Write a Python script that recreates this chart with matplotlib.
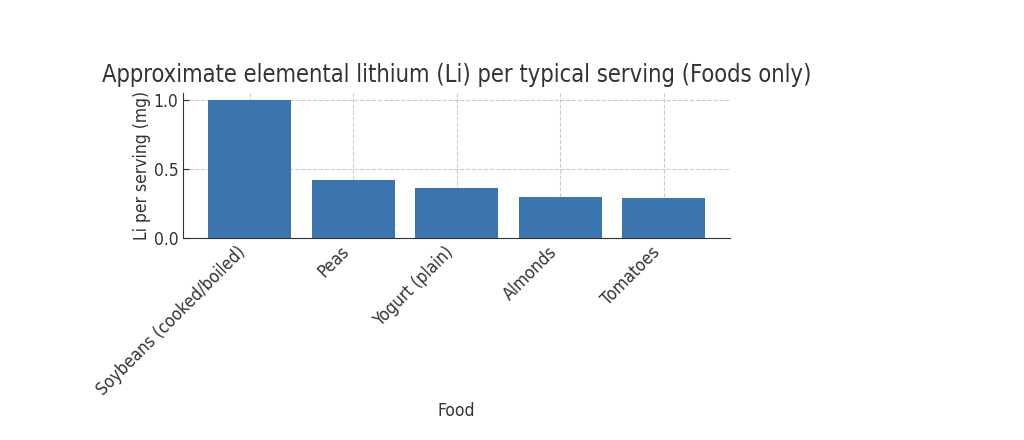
import matplotlib
matplotlib.use("Agg")
import matplotlib.pyplot as plt

foods = ["Soybeans (cooked/boiled)", "Peas", "Yogurt (plain)", "Almonds", "Tomatoes"]
li_mg = [1.0, 0.417, 0.364, 0.295, 0.286]
yticks = [0.0, 0.5, 1.0]

plt.rcParams['font.family'] = ['DejaVu Sans']
plt.rcParams['font.stretch'] = 'condensed'
fig = plt.figure(figsize=(10.24, 4.4), dpi=100)
ax = fig.add_axes([0.179, 0.459, 0.534, 0.33])
ax.bar(foods, li_mg, width=0.8, color="#3a75af", zorder=2)
ax.set_yticks(yticks)
ax.grid(True, linestyle="--", color="#999999", alpha=0.5, linewidth=0.8, zorder=3)
for s in ["top", "right"]:
    ax.spines[s].set_visible(False)
for s in ["left", "bottom"]:
    ax.spines[s].set_color("#333333")
ax.tick_params(colors="#333333", labelsize=12.5, length=4, direction="in")
plt.setp(ax.get_xticklabels(), rotation=45, ha="right")
ax.set_title("Approximate elemental lithium (Li) per typical serving (Foods only)",
             fontsize=17, color="#333333", pad=8)
ax.set_xlabel("Food", fontsize=12.5, color="#333333", labelpad=2)
ax.set_ylabel("Li per serving (mg)", fontsize=12.5, color="#333333", labelpad=2)
fig.savefig("out.png", dpi=100)
